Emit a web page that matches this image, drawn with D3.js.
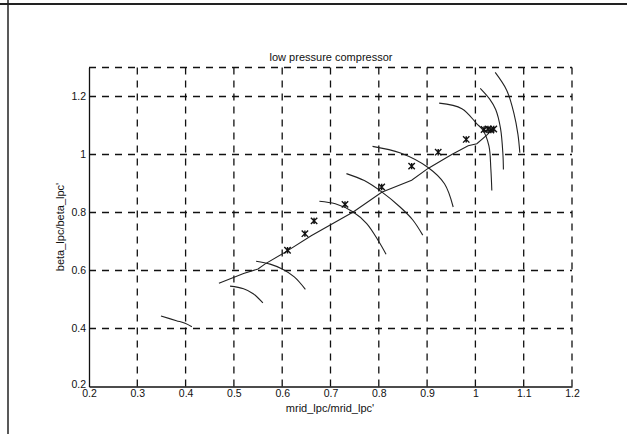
<script src="https://cdnjs.cloudflare.com/ajax/libs/d3/7.8.5/d3.min.js"></script>
<style>
  body { margin: 0; background: #fff; }
  svg { display: block; }
  text { font-family: 'Liberation Sans', Arial, sans-serif; fill: #111; }
  .grid line { stroke: #111; stroke-width: 1.3; stroke-dasharray: 7,6; }
</style>
<body>
<div id="chart"></div>
<script>

// operating line
var opLine = [
  [0.469, 0.556], [0.52, 0.59], [0.55, 0.605], [0.564, 0.622], [0.609, 0.666],
  [0.66, 0.72], [0.747, 0.802], [0.806, 0.870], [0.868, 0.911], [0.902, 0.952],
  [0.951, 1.000], [0.985, 1.030], [1.003, 1.037], [1.023, 1.066], [1.037, 1.089]
];

// measured points (asterisks)
var points = [
  [0.611, 0.670], [0.647, 0.727], [0.666, 0.771], [0.730, 0.828], [0.806, 0.888],
  [0.868, 0.960], [0.923, 1.008], [0.981, 1.052],
  [1.018, 1.086], [1.026, 1.088], [1.032, 1.084], [1.038, 1.088]
];

// speed lines
var speed1 = [[0.349, 0.443], [0.381, 0.427], [0.399, 0.418], [0.413, 0.406]];
var speed2 = [[0.492, 0.546], [0.52, 0.537], [0.54, 0.52], [0.56, 0.488]];
var speed3 = [[0.546, 0.632], [0.575, 0.622], [0.60, 0.605], [0.625, 0.578], [0.648, 0.535]];
var speed4 = [[0.677, 0.839], [0.71, 0.830], [0.747, 0.802], [0.775, 0.762], [0.80, 0.70], [0.815, 0.656]];
var speed5 = [[0.733, 0.934], [0.77, 0.910], [0.806, 0.871], [0.844, 0.819], [0.87, 0.775], [0.891, 0.722]];
var speed6 = [[0.787, 1.028], [0.845, 1.005], [0.902, 0.955], [0.936, 0.899], [0.954, 0.819]];
var speed7 = [[0.925, 1.177], [0.972, 1.158], [1.003, 1.106], [1.016, 1.083], [1.028, 1.03], [1.032, 0.95], [1.034, 0.876]];
var speed8 = [[1.010, 1.228], [1.030, 1.19], [1.042, 1.155], [1.052, 1.09], [1.057, 1.0], [1.058, 0.948]];
var speed9 = [[1.041, 1.283], [1.065, 1.221], [1.08, 1.14], [1.088, 1.07], [1.092, 1.006]];
var speedLines = [speed1, speed2, speed3, speed4, speed5, speed6, speed7, speed8, speed9];

var xTicks = [0.2, 0.3, 0.4, 0.5, 0.6, 0.7, 0.8, 0.9, 1.0, 1.1, 1.2];
var yTicks = [0.2, 0.4, 0.6, 0.8, 1.0, 1.2];
var yMax = 1.3;

var W = 627, H = 434;
var x = d3.scaleLinear().domain([0.2, 1.2]).range([89, 572]);
var y = d3.scaleLinear().domain([0.2, yMax]).range([386.5, 67.5]);

var svg = d3.select("#chart").append("svg").attr("width", W).attr("height", H);

// scan frame
svg.append("line").attr("x1", 0).attr("x2", W).attr("y1", 4).attr("y2", 4)
   .attr("stroke", "#222").attr("stroke-width", 2);
svg.append("line").attr("x1", 8).attr("x2", 8).attr("y1", 0).attr("y2", H)
   .attr("stroke", "#222").attr("stroke-width", 1.5);

var fmt = function(d) { return String(+d.toFixed(1)); };

// grid (dashed) incl. top and right border
svg.append("g").attr("class", "grid")
   .selectAll("line").data(xTicks.slice(1)).enter().append("line")
   .attr("x1", function(d) { return x(d); }).attr("x2", function(d) { return x(d); })
   .attr("y1", y(yMax)).attr("y2", y(0.2));
svg.append("g").attr("class", "grid")
   .selectAll("line").data(yTicks.slice(1).concat([yMax])).enter().append("line")
   .attr("x1", x(0.2)).attr("x2", x(1.2))
   .attr("y1", function(d) { return y(d); }).attr("y2", function(d) { return y(d); });

// solid left and bottom axis
var xAxis = svg.append("g").attr("transform", "translate(0," + y(0.2) + ")")
   .call(d3.axisBottom(x).tickValues(xTicks).tickFormat(fmt).tickSize(0).tickPadding(3));
var yAxis = svg.append("g").attr("transform", "translate(" + x(0.2) + ",0)")
   .call(d3.axisLeft(y).tickValues(yTicks).tickFormat(fmt).tickSize(0).tickPadding(3));
[xAxis, yAxis].forEach(function(a) {
  a.select(".domain").attr("stroke", "#111").attr("stroke-width", 1.3);
  a.selectAll("text").style("font-family", "'Liberation Sans', Arial, sans-serif")
   .style("font-size", "10.5px").attr("fill", "#111");
});
// lift the lowest y label a little, as in the scan
yAxis.selectAll(".tick text").filter(function(d) { return d === 0.2; }).attr("dy", "0.05em");

var line = d3.line().x(function(d) { return x(d[0]); }).y(function(d) { return y(d[1]); })
             .curve(d3.curveCatmullRom);

svg.append("g").selectAll("path").data(speedLines).enter().append("path")
   .attr("d", line).attr("fill", "none").attr("stroke", "#222").attr("stroke-width", 1.1);

svg.append("path").datum(opLine).attr("d", d3.line()
     .x(function(d) { return x(d[0]); }).y(function(d) { return y(d[1]); }))
   .attr("fill", "none").attr("stroke", "#222").attr("stroke-width", 1.1);

// asterisk markers
var r = 3.2;
svg.append("g").selectAll("path").data(points).enter().append("path")
   .attr("transform", function(d) { return "translate(" + x(d[0]) + "," + y(d[1]) + ")"; })
   .attr("d", "M" + -r + "," + -r + "L" + r + "," + r + "M" + -r + "," + r + "L" + r + "," + -r +
              "M0," + -r + "L0," + r)
   .attr("stroke", "#111").attr("stroke-width", 1.4).attr("fill", "none");

// titles
svg.append("text").attr("x", 331).attr("y", 61).attr("text-anchor", "middle")
   .style("font-size", "11px").text("low pressure compressor");
svg.append("text").attr("x", 330).attr("y", 412).attr("text-anchor", "middle")
   .style("font-size", "11px").text("mrid_lpc/mrid_lpc'");
svg.append("text").attr("transform", "translate(64,227) rotate(-90)").attr("text-anchor", "middle")
   .style("font-size", "11px").text("beta_lpc/beta_lpc'");

</script>
</body>
